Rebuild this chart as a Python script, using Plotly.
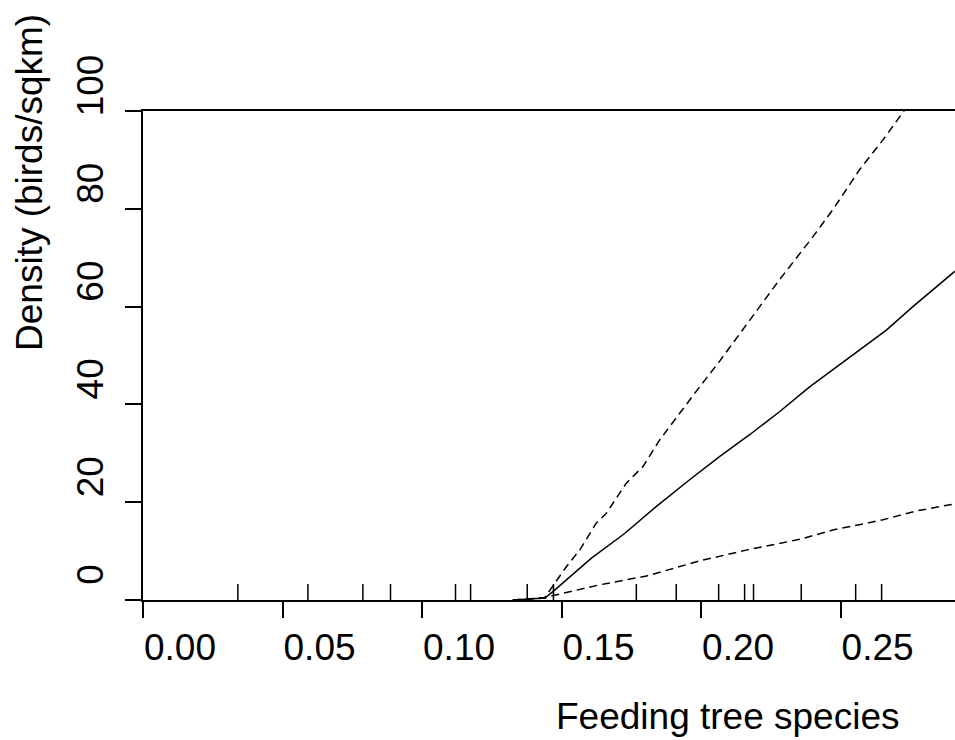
import plotly.graph_objects as go

# ---- data ----
x_ticks = [0.00, 0.05, 0.10, 0.15, 0.20, 0.25]
x_tick_labels = ["0.00", "0.05", "0.10", "0.15", "0.20", "0.25"]
y_ticks = [0, 20, 40, 60, 80, 100]
y_tick_labels = ["0", "20", "40", "60", "80", "100"]

rug_x = [0.0340, 0.0591, 0.0788, 0.0887, 0.1120, 0.1174, 0.1377, 0.1471,
         0.1768, 0.1911, 0.2063, 0.2156, 0.2188, 0.2359, 0.2554, 0.2647]

fit_x = [0.1325, 0.1440, 0.1469, 0.1517, 0.1606, 0.1726, 0.1839, 0.1959, 0.2066,
         0.2174, 0.2281, 0.2389, 0.2472, 0.2556, 0.2664, 0.2759, 0.2843, 0.2909]
fit_y = [0.0, 0.4, 1.7, 4.1, 8.5, 13.6, 19.1, 24.6, 29.3,
         33.8, 38.5, 43.6, 47.1, 50.8, 55.2, 60.0, 64.1, 67.2]

upper_x = [0.1325, 0.1440, 0.1517, 0.1565, 0.1624, 0.1660, 0.1732, 0.1792, 0.1851,
           0.1923, 0.1995, 0.2066, 0.2174, 0.2281, 0.2401, 0.2472, 0.2568, 0.2652,
           0.2727, 0.2800]
upper_y = [0.0, 0.5, 6.8, 10.2, 15.7, 17.7, 23.9, 27.3, 32.7,
           38.2, 43.6, 48.8, 57.3, 65.5, 74.3, 79.8, 88.0, 94.1,
           100.0, 105.0]

lower_x = [0.1325, 0.1440, 0.1469, 0.1636, 0.1804, 0.1995, 0.2162, 0.2353,
           0.2472, 0.2652, 0.2771, 0.2903]
lower_y = [0.0, 0.4, 0.9, 3.1, 4.9, 8.0, 10.2, 12.4,
           14.3, 16.4, 18.2, 19.6]

FONT = "Liberation Sans, Arial, sans-serif"
FS = 37
RUG_LEN = 3.27  # in y data units (~16 px)

fig = go.Figure()

# rug
rx, ry = [], []
for v in rug_x:
    rx += [v, v, None]
    ry += [0, RUG_LEN, None]
fig.add_trace(go.Scatter(x=rx, y=ry, mode="lines",
                         line=dict(color="black", width=1.5),
                         hoverinfo="skip", showlegend=False))

fig.add_trace(go.Scatter(x=upper_x, y=upper_y, mode="lines",
                         line=dict(color="black", width=1.5, dash="8px,5px"),
                         showlegend=False))
fig.add_trace(go.Scatter(x=lower_x, y=lower_y, mode="lines",
                         line=dict(color="black", width=1.5, dash="8px,5px"),
                         showlegend=False))
fig.add_trace(go.Scatter(x=fit_x, y=fit_y, mode="lines",
                         line=dict(color="black", width=1.5),
                         showlegend=False))

fig.update_layout(
    width=955, height=740,
    margin=dict(l=143, r=0, t=111, b=140, pad=0),
    paper_bgcolor="white", plot_bgcolor="white",
    font=dict(family=FONT, size=FS, color="black"),
    xaxis=dict(range=[0, 0.2910], tickvals=x_ticks, ticktext=x_tick_labels,
               showgrid=False, zeroline=False, showline=True, mirror=True,
               linecolor="black", linewidth=1.5,
               ticks="outside", ticklen=16, tickwidth=1.5, tickcolor="black",
               tickfont=dict(size=FS), ticklabelshift=37, ticklabelstandoff=-2),
    yaxis=dict(range=[0, 100], tickvals=y_ticks, ticktext=y_tick_labels,
               showgrid=False, zeroline=False, showline=True,
               linecolor="black", linewidth=1.5,
               ticks="outside", ticklen=16, tickwidth=1.5, tickcolor="black",
               tickangle=-90, tickfont=dict(size=FS),
               ticklabelshift=-20, ticklabelstandoff=7),
    annotations=[
        dict(text="Feeding tree species", xref="paper", yref="paper",
             x=(727 - 143) / 812, y=(600 - 716) / 489,
             xanchor="center", yanchor="middle", showarrow=False,
             font=dict(size=FS)),
        dict(text="Density (birds/sqkm)", xref="paper", yref="paper",
             x=(29 - 143) / 812, y=(600 - 183) / 489, textangle=-90,
             xanchor="center", yanchor="middle", showarrow=False,
             font=dict(size=FS)),
    ],
)

fig.write_html("out.html")
